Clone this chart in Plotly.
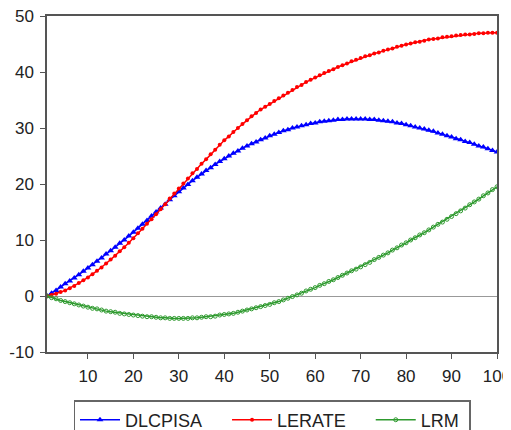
import plotly.graph_objects as go

periods = list(range(1, 101))

dlcpisa = [
    0, 0.5, 1.0, 1.6, 2.2, 2.7, 3.2, 3.8, 4.4, 5.0,
    5.6, 6.2, 6.8, 7.5, 8.1, 8.7, 9.4, 10.0, 10.7, 11.4,
    12.1, 12.8, 13.5, 14.3, 15.0, 15.7, 16.4, 17.2, 17.9, 18.6,
    19.3, 19.9, 20.6, 21.2, 21.8, 22.4, 22.9, 23.5, 24.0, 24.5,
    25.0, 25.5, 25.9, 26.4, 26.8, 27.2, 27.5, 27.9, 28.2, 28.6,
    28.9, 29.2, 29.5, 29.7, 30.0, 30.2, 30.4, 30.6, 30.8, 30.9,
    31.1, 31.2, 31.3, 31.4, 31.5, 31.5, 31.6, 31.6, 31.6, 31.6,
    31.6, 31.5, 31.5, 31.4, 31.3, 31.2, 31.1, 30.9, 30.8, 30.6,
    30.4, 30.2, 30.0, 29.8, 29.6, 29.4, 29.1, 28.9, 28.6, 28.4,
    28.1, 27.9, 27.6, 27.4, 27.1, 26.8, 26.6, 26.3, 26.0, 25.7,
]

lerate = [
    0, 0.2, 0.4, 0.7, 1.0, 1.4, 1.8, 2.3, 2.8, 3.3,
    3.9, 4.5, 5.1, 5.8, 6.5, 7.2, 8.0, 8.7, 9.5, 10.3,
    11.2, 12.0, 12.9, 13.7, 14.6, 15.5, 16.4, 17.4, 18.3, 19.2,
    20.1, 21.0, 21.9, 22.7, 23.6, 24.4, 25.3, 26.1, 27.0, 27.8,
    28.5, 29.3, 30.0, 30.7, 31.4, 32.1, 32.7, 33.3, 33.8, 34.3,
    34.8, 35.3, 35.8, 36.3, 36.8, 37.3, 37.7, 38.2, 38.6, 39.0,
    39.4, 39.8, 40.2, 40.5, 40.9, 41.2, 41.5, 41.9, 42.2, 42.5,
    42.8, 43.0, 43.3, 43.5, 43.8, 44.0, 44.2, 44.5, 44.7, 44.9,
    45.1, 45.3, 45.4, 45.6, 45.8, 45.9, 46.0, 46.2, 46.3, 46.4,
    46.5, 46.6, 46.7, 46.7, 46.8, 46.9, 46.9, 47.0, 47.0, 47.0,
]

lrm = [
    0, -0.3, -0.5, -0.8, -1.0, -1.2, -1.4, -1.6, -1.8, -2.0,
    -2.2, -2.3, -2.5, -2.7, -2.8, -2.9, -3.1, -3.2, -3.3, -3.4,
    -3.5, -3.6, -3.7, -3.7, -3.8, -3.9, -3.9, -4.0, -4.0, -4.0,
    -4.0, -4.0, -3.9, -3.9, -3.8, -3.7, -3.7, -3.6, -3.4, -3.3,
    -3.2, -3.1, -2.9, -2.7, -2.5, -2.3, -2.1, -1.9, -1.7, -1.5,
    -1.2, -1.0, -0.7, -0.4, -0.1, 0.2, 0.5, 0.9, 1.2, 1.5,
    1.9, 2.2, 2.6, 2.9, 3.3, 3.7, 4.1, 4.5, 4.8, 5.2,
    5.6, 6.0, 6.5, 6.9, 7.3, 7.7, 8.2, 8.6, 9.1, 9.5,
    10.0, 10.4, 10.9, 11.3, 11.8, 12.3, 12.8, 13.2, 13.7, 14.2,
    14.7, 15.2, 15.7, 16.3, 16.8, 17.3, 17.9, 18.4, 19.0, 19.5,
]

series_names = ["DLCPISA", "LERATE", "LRM"]
x_ticks = [10, 20, 30, 40, 50, 60, 70, 80, 90, 100]
x_labels = ["10", "20", "30", "40", "50", "60", "70", "80", "90", "100"]
y_ticks = [-10, 0, 10, 20, 30, 40, 50]
y_labels = ["-10", "0", "10", "20", "30", "40", "50"]

NB = "\u00a0"
legend_pad = [NB * 4, NB * 4, NB * 1]

fig = go.Figure()
fig.add_trace(go.Scatter(x=periods, y=dlcpisa, name=series_names[0] + legend_pad[0],
                         mode="lines+markers",
                         line=dict(color="#0000FF", width=1.5),
                         marker=dict(symbol="triangle-up", size=6, color="#0000FF")))
fig.add_trace(go.Scatter(x=periods, y=lerate, name=series_names[1] + legend_pad[1],
                         mode="lines+markers",
                         line=dict(color="#FF0000", width=1.5),
                         marker=dict(symbol="circle", size=4, color="#FF0000")))
fig.add_trace(go.Scatter(x=periods, y=lrm, name=series_names[2] + legend_pad[2],
                         mode="lines+markers",
                         line=dict(color="#2E9A2E", width=1.5),
                         marker=dict(symbol="circle-open", size=4, color="#2E9A2E",
                                     line=dict(width=1))))

fig.update_layout(
    width=503, height=422,
    margin=dict(l=39, r=14, t=8, b=78, autoexpand=False),
    paper_bgcolor="white", plot_bgcolor="white",
    font=dict(family="Liberation Sans, Arial, sans-serif", size=17, color="#222222"),
    showlegend=True,
    legend=dict(orientation="h", x=0.5, xanchor="center", y=-0.143, yanchor="top",
                bordercolor="#666666", borderwidth=1.5, font=dict(size=18),
                itemwidth=40, traceorder="normal"),
)
fig.update_xaxes(range=[1, 100], tickvals=x_ticks, ticktext=x_labels, ticks="outside", ticklen=5,
                 tickcolor="#555555", showline=True, linecolor="#555555", linewidth=1.5,
                 mirror=True, showgrid=False, zeroline=False, automargin=False,
                 ticklabelstandoff=3, ticklabeloverflow="allow")
fig.update_yaxes(range=[-10, 50], tickvals=y_ticks, ticktext=y_labels, ticks="outside", ticklen=5,
                 tickcolor="#555555", showline=True, linecolor="#555555", linewidth=1.5,
                 mirror=True, showgrid=False, zeroline=True, zerolinecolor="#999999",
                 zerolinewidth=1.2, automargin=False, ticklabelstandoff=3,
                 ticklabeloverflow="allow")

fig.write_html("out.html")
